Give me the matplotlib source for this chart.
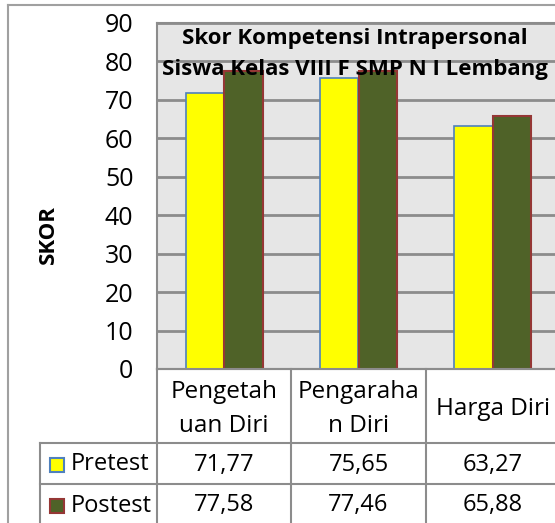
import matplotlib
matplotlib.use('Agg')
import matplotlib.pyplot as plt
import numpy as np

# data
categories = ['Pengetah\nuan Diri', 'Pengaraha\nn Diri', 'Harga Diri']
series_names = ['Pretest', 'Postest']
pretest = [71.77, 75.65, 63.27]
postest = [77.58, 77.46, 65.88]
yticks = [0, 10, 20, 30, 40, 50, 60, 70, 80, 90]
title = 'Skor Kompetensi Intrapersonal\nSiswa Kelas VIII F SMP N I Lembang'

plt.rcParams['font.family'] = ['Open Sans', 'DejaVu Sans']

W, H = 555, 523
fig = plt.figure(figsize=(W / 100, H / 100), dpi=100)

# plot area in pixel terms
left, right, top, bottom = 157, 560, 23, 369
ax = fig.add_axes([left / W, 1 - bottom / H, (right - left) / W, (bottom - top) / H])
ax.set_facecolor('#e6e6e6')

x = np.arange(len(categories))
bw = 0.286
ax.bar(x - bw / 2, pretest, bw, color='#ffff00', edgecolor='#4f81bd', lw=1.2, zorder=3)
ax.bar(x + bw / 2, postest, bw, color='#4f6228', edgecolor='#953735', lw=1.5, zorder=3)

ax.set_xlim(-0.5, len(categories) - 0.5)
ax.set_ylim(0, 90)
ax.set_yticks(yticks)
ax.set_yticklabels([str(t) for t in yticks], fontsize=18)
ax.set_xticks([])
ax.yaxis.grid(True, color='#8c8c8c', lw=2, zorder=0)
ax.tick_params(axis='y', length=0, pad=17)
for s in ['left', 'top', 'bottom']:
    ax.spines[s].set_color('#8c8c8c')
    ax.spines[s].set_linewidth(1.5)
ax.spines['right'].set_visible(False)

# overlay in pixel coords for title, label and data table
ov = fig.add_axes([0, 0, 1, 1])
ov.set_xlim(0, W)
ov.set_ylim(H, 0)
ov.axis('off')

ov.text(355, 54, title, ha='center', va='center', fontsize=16,
        fontweight='bold', linespacing=1.68, zorder=5)
ov.text(48, 235, 'SKOR', rotation=90, ha='center', va='center', fontsize=16, fontweight='bold')

gc = '#8c8c8c'
# outer frame
ov.plot([8, W], [5, 5], color='#a0a0a0', lw=1.5)
ov.plot([8, 8], [5, H], color='#a0a0a0', lw=1.5)

cw = (right - left) / len(categories)
row_cat = (369, 443)
rows = [(443, 484), (484, 525)]
# horizontal lines
ov.plot([left, W], [row_cat[0]] * 2, color=gc, lw=1.5)
ov.plot([40, W], [row_cat[1]] * 2, color=gc, lw=1.5)
ov.plot([40, W], [rows[0][1]] * 2, color=gc, lw=1.5)
# vertical lines
ov.plot([40, 40], [row_cat[1], H], color=gc, lw=1.5)
for i in range(len(categories) + 1):
    xx = left + i * cw
    ov.plot([xx, xx], [row_cat[0], H], color=gc, lw=1.5)

for i, c in enumerate(categories):
    ov.text(left + (i + 0.5) * cw, sum(row_cat) / 2 + 3, c, ha='center', va='center',
            fontsize=17.5, linespacing=1.5)

vals = [pretest, postest]
fills = ['#ffff00', '#4f6228']
edges = ['#4f81bd', '#953735']
for r, (name, v) in enumerate(zip(series_names, vals)):
    y0, y1 = rows[r]
    yc = (y0 + y1) / 2 + 1
    ov.add_patch(plt.Rectangle((49.5, yc - 7), 14, 14, facecolor=fills[r], edgecolor=edges[r], lw=1.5))
    ov.text(71, yc, name, ha='left', va='center', fontsize=17)
    for i, val in enumerate(v):
        ov.text(left + (i + 0.5) * cw, yc, f'{val:.2f}'.replace('.', ','),
                ha='center', va='center', fontsize=17)

fig.savefig('out.png', dpi=100)
